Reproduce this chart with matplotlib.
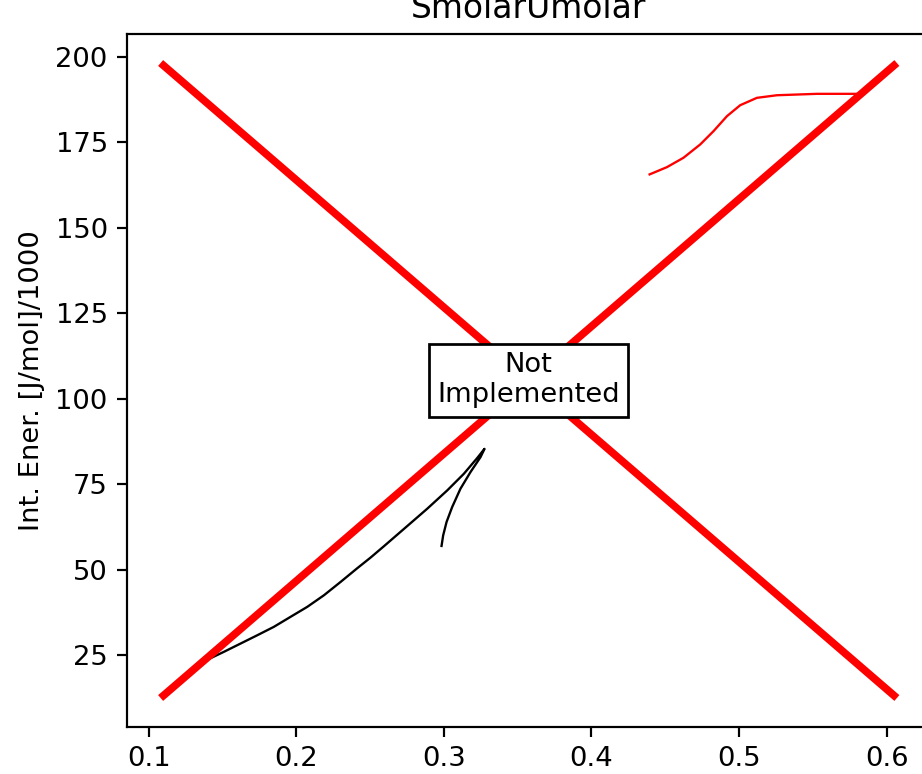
import matplotlib
matplotlib.use("Agg")
import matplotlib.pyplot as plt

# Red "X" (not implemented) line extents
x_range = [0.11, 0.605]
y_range = [13.3, 197.4]

# Black curve
black_x = [0.1370, 0.1510, 0.1623, 0.1736, 0.1848, 0.1961, 0.2074, 0.2187,
           0.2300, 0.2413, 0.2503, 0.2593, 0.2752, 0.2887, 0.3022, 0.3135,
           0.3225, 0.3275, 0.3248, 0.3180, 0.3112, 0.3056, 0.3018, 0.2995,
           0.2984]
black_y = [23.20, 26.08, 28.50, 30.92, 33.37, 36.29, 39.20, 42.59,
           46.49, 50.50, 53.60, 56.90, 62.83, 67.88, 73.21, 78.08,
           82.66, 85.37, 82.95, 78.58, 73.71, 68.37, 64.00, 60.09,
           57.00]

# Thin red curve
red_x = [0.4394, 0.4512, 0.4624, 0.4737, 0.4827, 0.4918, 0.5008, 0.5121,
         0.5257, 0.5527, 0.5798]
red_y = [165.58, 167.71, 170.45, 174.33, 178.21, 182.59, 185.80, 187.95,
         188.71, 189.12, 189.12]

dpi = 197
fig = plt.figure(figsize=(922 / dpi, 774 / dpi), dpi=dpi)
ax = fig.add_axes([127 / 922, 47 / 774, (930.5 - 127) / 922, 693 / 774])

ax.plot(black_x, black_y, color="black", lw=0.85)
ax.plot(red_x, red_y, color="red", lw=0.85)
ax.plot(x_range, [y_range[1], y_range[0]], color="red", lw=2.8)
ax.plot(x_range, [y_range[0], y_range[1]], color="red", lw=2.8)

ax.text(0.5, 0.5, "Not\nImplemented", transform=ax.transAxes,
        ha="center", va="center", multialignment="center", fontsize=10,
        bbox=dict(boxstyle="square,pad=0.3", facecolor="white", edgecolor="black"))

ax.set_title("SmolarUmolar")
ax.set_ylabel("Int. Ener. [J/mol]/1000")
ax.set_xticks([0.1, 0.2, 0.3, 0.4, 0.5, 0.6])
ax.set_yticks([25, 50, 75, 100, 125, 150, 175, 200])

fig.savefig("out.png", dpi=dpi)
